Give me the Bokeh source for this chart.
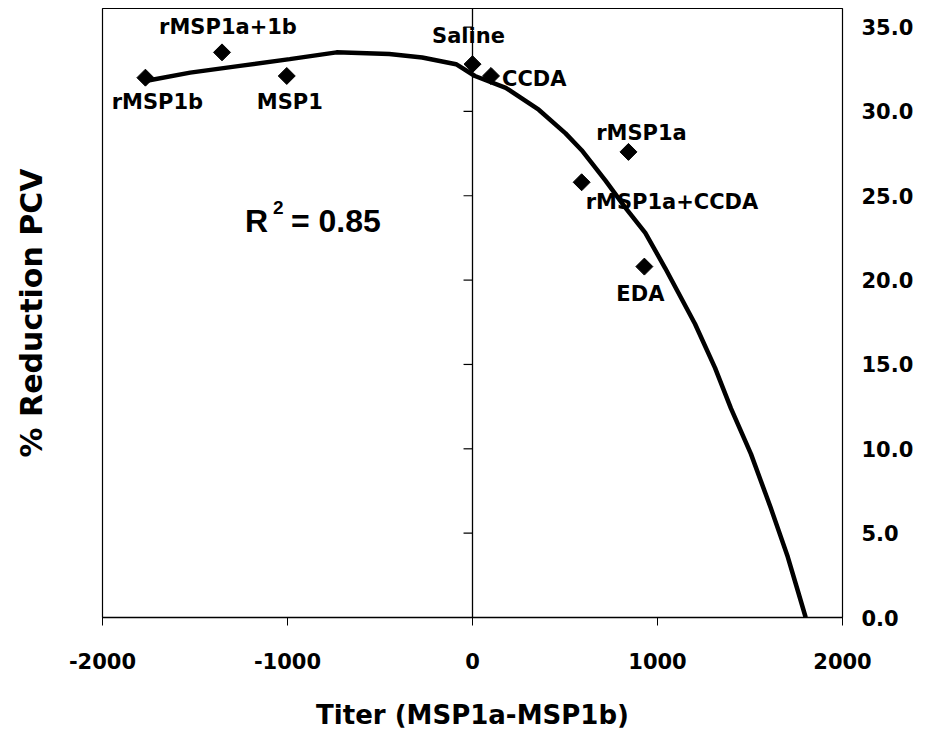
import numpy as np
from bokeh.plotting import figure
from bokeh.models import (ColumnDataSource, LinearAxis, FixedTicker, Span,
                          NumeralTickFormatter, Range1d, Label)
from bokeh.embed import file_html
from bokeh.resources import INLINE
from bokeh.core.properties import value

# ---- data -------------------------------------------------------------
groups = ["rMSP1b", "rMSP1a+1b", "MSP1", "Saline", "CCDA",
          "rMSP1a", "rMSP1a+CCDA", "EDA"]
titer = [-1768, -1354, -1004, 0, 100, 843, 590, 929]
pcv_reduction = [32.0, 33.5, 32.1, 32.8, 32.1, 27.6, 25.8, 20.8]

# trend line
trend_x = [-1768, -1526, -1257, -988, -735, -450, -272, -89, 13, 180, 358,
           503, 590, 719, 826, 934, 1042, 1203, 1311, 1397, 1505, 1612,
           1704, 1758, 1801]
trend_y = [31.8, 32.3, 32.7, 33.1, 33.5, 33.4, 33.2, 32.8, 32.1, 31.4, 30.1,
           28.7, 27.7, 25.9, 24.3, 22.8, 20.7, 17.4, 14.8, 12.4, 9.7, 6.5,
           3.6, 1.6, 0.0]

x_ticks = [-2000, -1000, 0, 1000, 2000]
y_ticks = [0, 5, 10, 15, 20, 25, 30, 35]
r_squared = "0.85"

# ---- label placement (screen pixels relative to the point, +y = down) ---
lab_dx = [12, 6, 3, -4, 11, 13, 4, -4]
lab_dy = [24, -25, 26, -28, 3, -19, 20, 27]
lab_align = ["center", "center", "center", "center", "left", "center", "left", "center"]

FONT = "DejaVu Sans"

p = figure(width=916, height=741, output_backend="svg", toolbar_location=None,
           x_range=Range1d(-2000, 2000), y_range=Range1d(0, 36.1),
           y_axis_location="right",
           min_border_left=102, min_border_right=71, min_border_top=8,
           min_border_bottom=124)
p.background_fill_color = "white"
p.border_fill_color = "white"
p.grid.visible = False
p.outline_line_color = "black"
p.outline_line_width = 1.2

# x axis
xa = p.xaxis[0]
xa.ticker = FixedTicker(ticks=x_ticks)
xa.formatter = NumeralTickFormatter(format="0")
xa.minor_tick_line_color = None
xa.major_tick_out = 8
xa.major_tick_in = 0
xa.major_label_standoff = 27
xa.major_label_text_font = FONT
xa.major_label_text_font_style = "bold"
xa.major_label_text_font_size = "21px"
xa.major_label_text_color = "black"
xa.axis_line_color = "black"
xa.axis_line_width = 1.5
xa.axis_label = "Titer (MSP1a-MSP1b)"
xa.axis_label_text_font = FONT
xa.axis_label_text_font_style = "bold"
xa.axis_label_text_font_size = "26px"
xa.axis_label_text_color = "black"
xa.axis_label_standoff = 28

# right y axis (labels only)
ya = p.yaxis[0]
ya.ticker = FixedTicker(ticks=y_ticks)
ya.formatter = NumeralTickFormatter(format="0.0")
ya.minor_tick_line_color = None
ya.major_tick_out = 0
ya.major_tick_in = 0
ya.axis_line_color = None
ya.major_label_standoff = 19
ya.major_label_text_font = FONT
ya.major_label_text_font_style = "bold"
ya.major_label_text_font_size = "21px"
ya.major_label_text_color = "black"

# left axis carrying only the title
la = LinearAxis(ticker=FixedTicker(ticks=[]), axis_line_color=None,
                major_tick_line_color=None, minor_tick_line_color=None,
                axis_label="% Reduction PCV")
la.axis_label_text_font = FONT
la.axis_label_text_font_style = "bold"
la.axis_label_text_font_size = "30px"
la.axis_label_text_color = "black"
la.axis_label_standoff = 54
p.add_layout(la, "left")

# vertical axis at x = 0 with its tick marks
p.add_layout(Span(location=0, dimension="height", line_color="black", line_width=1.3))
tick_len = 9 * 4000 / 743.0
p.segment(x0=[0] * len(y_ticks), y0=y_ticks,
          x1=[-tick_len] * len(y_ticks), y1=y_ticks,
          line_color="black", line_width=1.2)

# trend line
p.line(trend_x, trend_y, line_color="black", line_width=4.5)

# points
src = ColumnDataSource(dict(x=titer, y=pcv_reduction, name=groups,
                            dx=lab_dx, dy=lab_dy, al=lab_align))
p.scatter("x", "y", source=src, marker="square", angle=np.pi / 4, size=12,
          fill_color="black", line_color="black")

p.text("x", "y", text="name", source=src, x_offset="dx", y_offset="dy",
       text_align="al", text_baseline="middle",
       text_font=value(FONT), text_font_style="bold",
       text_font_size="21px", text_color="black")

# R^2 annotation
p.add_layout(Label(x=-1230, y=23.5, text="R", text_font="Liberation Sans",
                   text_font_style="bold", text_font_size="32px",
                   text_color="black",
                   text_align="left", text_baseline="middle"))
p.add_layout(Label(x=-1230, y=23.5, x_offset=28, y_offset=14, text="2",
                   text_font="Liberation Sans", text_font_style="bold",
                   text_font_size="19px", text_color="black",
                   text_align="left", text_baseline="middle"))
p.add_layout(Label(x=-1230, y=23.5, x_offset=46, text="= " + r_squared,
                   text_font="Liberation Sans", text_font_style="bold",
                   text_font_size="32px", text_color="black",
                   text_align="left", text_baseline="middle"))

open("out.html", "w").write(file_html(p, INLINE))
